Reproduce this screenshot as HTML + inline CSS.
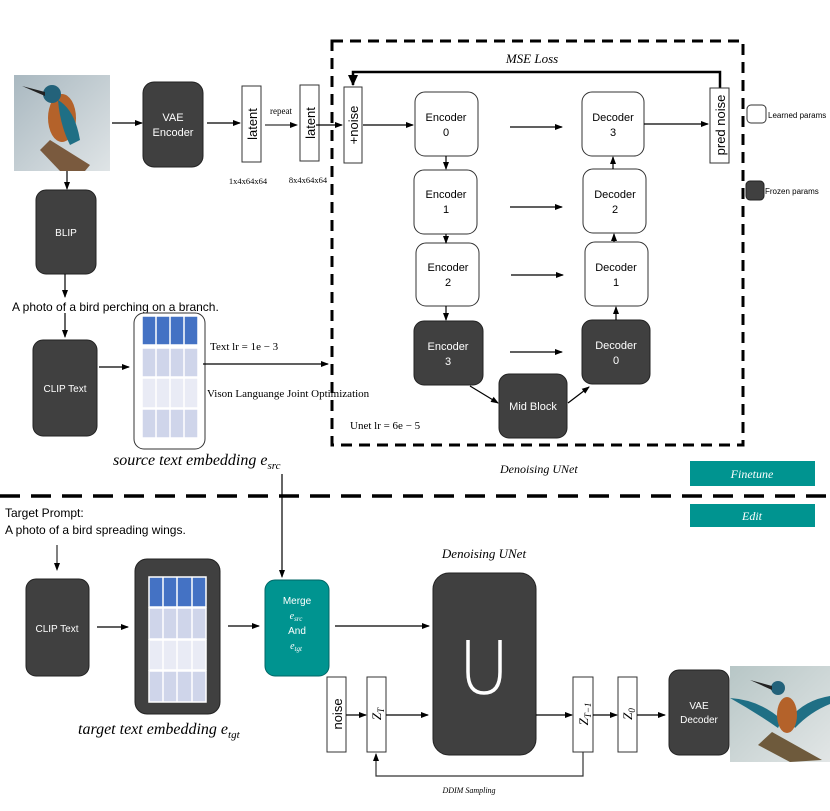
<!DOCTYPE html>
<html><head><meta charset="utf-8"><style>
html,body{margin:0;padding:0;background:#fff;}
svg{display:block;}
.s{font-family:"Liberation Sans",sans-serif;}
.r{font-family:"Liberation Serif",serif;}
</style></head><body>
<svg width="830" height="811" viewBox="0 0 830 811" xmlns="http://www.w3.org/2000/svg">
<defs>
<marker id="a" markerWidth="8" markerHeight="8" refX="7" refY="4" orient="auto" markerUnits="userSpaceOnUse"><path d="M0,1 L8,4 L0,7 z" fill="#000"/></marker>
<marker id="b" markerWidth="12" markerHeight="12" refX="10" refY="6" orient="auto" markerUnits="userSpaceOnUse"><path d="M0,1 L11,6 L0,11 z" fill="#000"/></marker>
<linearGradient id="bg1" x1="0" y1="0" x2="1" y2="1"><stop offset="0" stop-color="#a9b8c0"/><stop offset="1" stop-color="#dfe4e6"/></linearGradient>
<linearGradient id="bg2" x1="0" y1="0" x2="1" y2="1"><stop offset="0" stop-color="#b7c6c6"/><stop offset="1" stop-color="#e2e6e6"/></linearGradient>
</defs>

<!-- bird image top -->
<rect x="14" y="75" width="96" height="96" fill="url(#bg1)"/>
<path d="M40,150 L50,140 L90,165 L85,171 L60,171 Z" fill="#7a5a3e"/>
<ellipse cx="62" cy="118" rx="14" ry="24" fill="#b4622a"/>
<path d="M58,100 Q75,110 80,140 L70,145 Q60,125 58,100 Z" fill="#1f6f85"/>
<circle cx="52" cy="94" r="9" fill="#23627a"/>
<path d="M45,92 L22,86 L45,96 Z" fill="#222"/>

<!-- VAE Encoder -->
<rect x="143" y="82" width="60" height="85" rx="11" fill="#404040" stroke="#222"/>
<text class="s" x="173" y="121" font-size="11" fill="#fff" text-anchor="middle">VAE</text>
<text class="s" x="173" y="136" font-size="11" fill="#fff" text-anchor="middle">Encoder</text>
<line x1="112" y1="123" x2="142" y2="123" stroke="#000" stroke-width="1.3" marker-end="url(#a)"/>
<line x1="207" y1="123" x2="240" y2="123" stroke="#000" stroke-width="1.3" marker-end="url(#a)"/>

<!-- latents -->
<rect x="242" y="86" width="19" height="76" fill="#fff" stroke="#333"/>
<text class="s" transform="translate(257,124) rotate(-90)" font-size="13" text-anchor="middle">latent</text>
<rect x="300" y="85" width="19" height="76" fill="#fff" stroke="#333"/>
<text class="s" transform="translate(315,123) rotate(-90)" font-size="13" text-anchor="middle">latent</text>
<text class="r" x="281" y="114" font-size="9" text-anchor="middle">repeat</text>
<line x1="265" y1="125" x2="297" y2="125" stroke="#000" stroke-width="1" marker-end="url(#a)"/>
<text class="r" x="248" y="184" font-size="8.5" text-anchor="middle">1x4x64x64</text>
<text class="r" x="308" y="183" font-size="8.5" text-anchor="middle">8x4x64x64</text>
<line x1="316" y1="125" x2="342" y2="125" stroke="#000" stroke-width="1.2" marker-end="url(#a)"/>
<rect x="344" y="87" width="18" height="76" fill="#fff" stroke="#333"/>
<text class="s" transform="translate(358,125) rotate(-90)" font-size="13" text-anchor="middle">+noise</text>

<!-- dashed box -->
<rect x="332" y="41" width="411" height="404" fill="none" stroke="#000" stroke-width="3" stroke-dasharray="11,7"/>
<text class="r" x="532" y="63" font-size="13" font-style="italic" text-anchor="middle">MSE Loss</text>
<polyline points="720,88 720,72 353,72 353,85" fill="none" stroke="#000" stroke-width="2.5" marker-end="url(#b)"/>

<!-- encoders -->
<g class="s" font-size="11" text-anchor="middle">
<rect x="415" y="92" width="63" height="64" rx="10" fill="#fff" stroke="#333"/>
<text x="446" y="121">Encoder</text><text x="446" y="136">0</text>
<rect x="414" y="170" width="63" height="64" rx="10" fill="#fff" stroke="#333"/>
<text x="446" y="198">Encoder</text><text x="446" y="213">1</text>
<rect x="416" y="243" width="63" height="63" rx="10" fill="#fff" stroke="#333"/>
<text x="448" y="271">Encoder</text><text x="448" y="286">2</text>
<rect x="414" y="321" width="69" height="64" rx="10" fill="#404040" stroke="#222"/>
<text x="448" y="350" fill="#fff">Encoder</text><text x="448" y="365" fill="#fff">3</text>

<rect x="582" y="92" width="62" height="64" rx="10" fill="#fff" stroke="#333"/>
<text x="613" y="121">Decoder</text><text x="613" y="136">3</text>
<rect x="583" y="169" width="63" height="64" rx="10" fill="#fff" stroke="#333"/>
<text x="615" y="198">Decoder</text><text x="615" y="213">2</text>
<rect x="585" y="242" width="63" height="64" rx="10" fill="#fff" stroke="#333"/>
<text x="616" y="271">Decoder</text><text x="616" y="286">1</text>
<rect x="582" y="320" width="68" height="64" rx="10" fill="#404040" stroke="#222"/>
<text x="616" y="349" fill="#fff">Decoder</text><text x="616" y="364" fill="#fff">0</text>

<rect x="499" y="374" width="68" height="64" rx="10" fill="#404040" stroke="#222"/>
<text x="533" y="410" fill="#fff">Mid Block</text>
</g>
<g stroke="#000" stroke-width="1.2" fill="none">
<line x1="363" y1="125" x2="413" y2="125" marker-end="url(#a)"/>
<line x1="446" y1="156" x2="446" y2="169" marker-end="url(#a)"/>
<line x1="446" y1="234" x2="446" y2="243" marker-end="url(#a)"/>
<line x1="446" y1="306" x2="446" y2="320" marker-end="url(#a)"/>
<line x1="510" y1="127" x2="562" y2="127" marker-end="url(#a)"/>
<line x1="510" y1="207" x2="562" y2="207" marker-end="url(#a)"/>
<line x1="511" y1="275" x2="563" y2="275" marker-end="url(#a)"/>
<line x1="510" y1="352" x2="562" y2="352" marker-end="url(#a)"/>
<line x1="470" y1="386" x2="498" y2="403" marker-end="url(#a)"/>
<line x1="568" y1="403" x2="589" y2="387" marker-end="url(#a)"/>
<line x1="616" y1="320" x2="616" y2="307" marker-end="url(#a)"/>
<line x1="614" y1="242" x2="614" y2="234" marker-end="url(#a)"/>
<line x1="613" y1="169" x2="613" y2="157" marker-end="url(#a)"/>
<line x1="644" y1="124" x2="708" y2="124" marker-end="url(#a)"/>
</g>
<rect x="710" y="88" width="19" height="75" fill="#fff" stroke="#333"/>
<text class="s" transform="translate(725,125) rotate(-90)" font-size="13" text-anchor="middle">pred noise</text>

<!-- legend -->
<rect x="747" y="105" width="19" height="18" rx="4" fill="#fff" stroke="#333"/>
<text class="s" x="768" y="118" font-size="8">Learned  params</text>
<rect x="746" y="181" width="18" height="19" rx="4" fill="#404040" stroke="#222"/>
<text class="s" x="765" y="194" font-size="8">Frozen params</text>

<!-- BLIP -->
<line x1="67" y1="171" x2="67" y2="189" stroke="#000" stroke-width="1.2" marker-end="url(#a)"/>
<rect x="36" y="190" width="60" height="84" rx="10" fill="#404040" stroke="#222"/>
<text class="s" x="66" y="236" font-size="10" fill="#fff" text-anchor="middle">BLIP</text>
<line x1="65" y1="274" x2="65" y2="297" stroke="#000" stroke-width="1.2" marker-end="url(#a)"/>
<text class="s" x="12" y="311" font-size="12">A photo of a bird perching on a branch.</text>
<line x1="65" y1="313" x2="65" y2="337" stroke="#000" stroke-width="1.2" marker-end="url(#a)"/>
<rect x="33" y="340" width="64" height="96" rx="10" fill="#404040" stroke="#222"/>
<text class="s" x="65" y="392" font-size="10" fill="#fff" text-anchor="middle">CLIP Text</text>
<line x1="99" y1="367" x2="129" y2="367" stroke="#000" stroke-width="1.2" marker-end="url(#a)"/>

<!-- source embedding -->
<rect x="134" y="313" width="71" height="136" rx="10" fill="#fff" stroke="#333"/>
<g stroke="#fff" stroke-width="1.5">
<rect x="142" y="316" width="56" height="29" fill="#4472c4"/>
<rect x="142" y="348" width="56" height="29" fill="#cfd5ea"/>
<rect x="142" y="378" width="56" height="30" fill="#e9ebf5"/>
<rect x="142" y="409" width="56" height="29" fill="#cfd5ea"/>
<line x1="156" y1="316" x2="156" y2="438"/><line x1="170" y1="316" x2="170" y2="438"/><line x1="184" y1="316" x2="184" y2="438"/>
</g>
<text class="r" x="210" y="350" font-size="11">Text lr = 1e − 3</text>
<line x1="203" y1="364" x2="328" y2="364" stroke="#000" stroke-width="1.2" marker-end="url(#a)"/>
<text class="r" x="207" y="397" font-size="11">Vison Languange Joint Optimization</text>
<text class="r" x="350" y="429" font-size="11">Unet lr = 6e − 5</text>
<text class="r" x="113" y="465" font-size="16" font-style="italic">source text embedding e<tspan font-size="11" dy="4">src</tspan></text>
<text class="r" x="500" y="473" font-size="12" font-style="italic">Denoising UNet</text>
<rect x="690" y="461" width="125" height="25" fill="#009490"/>
<text class="r" x="752" y="478" font-size="12" font-style="italic" fill="#fff" text-anchor="middle">Finetune</text>

<line x1="0" y1="496" x2="830" y2="496" stroke="#000" stroke-width="3.5" stroke-dasharray="20,11"/>
<line x1="282" y1="474" x2="282" y2="577" stroke="#000" stroke-width="1.2" marker-end="url(#a)"/>

<rect x="690" y="504" width="125" height="23" fill="#009490"/>
<text class="r" x="752" y="520" font-size="12" font-style="italic" fill="#fff" text-anchor="middle">Edit</text>

<!-- bottom -->
<text class="s" x="5" y="517" font-size="12">Target Prompt:</text>
<text class="s" x="5" y="534" font-size="12">A photo of a bird spreading wings.</text>
<line x1="57" y1="545" x2="57" y2="570" stroke="#000" stroke-width="1" marker-end="url(#a)"/>
<rect x="26" y="579" width="63" height="97" rx="10" fill="#404040" stroke="#222"/>
<text class="s" x="57" y="632" font-size="10" fill="#fff" text-anchor="middle">CLIP Text</text>
<line x1="97" y1="627" x2="128" y2="627" stroke="#000" stroke-width="1.2" marker-end="url(#a)"/>
<rect x="135" y="559" width="85" height="155" rx="12" fill="#404040" stroke="#222"/>
<g stroke="#fff" stroke-width="1.5">
<rect x="149" y="577" width="57" height="30" fill="#4472c4"/>
<rect x="149" y="608" width="57" height="31" fill="#cfd5ea"/>
<rect x="149" y="640" width="57" height="30" fill="#e9ebf5"/>
<rect x="149" y="671" width="57" height="31" fill="#cfd5ea"/>
<line x1="163" y1="577" x2="163" y2="702"/><line x1="177" y1="577" x2="177" y2="702"/><line x1="192" y1="577" x2="192" y2="702"/>
</g>
<text class="r" x="78" y="734" font-size="16" font-style="italic">target text embedding e<tspan font-size="11" dy="4">tgt</tspan></text>
<line x1="228" y1="626" x2="259" y2="626" stroke="#000" stroke-width="1.2" marker-end="url(#a)"/>

<rect x="265" y="580" width="64" height="96" rx="10" fill="#009490" stroke="#066"/>
<g fill="#fff" text-anchor="middle" font-size="10">
<text class="s" x="297" y="604">Merge</text>
<text class="r" x="296" y="619" font-style="italic">e<tspan font-size="7" dy="2">src</tspan></text>
<text class="s" x="297" y="634">And</text>
<text class="r" x="296" y="649" font-style="italic">e<tspan font-size="7" dy="2">tgt</tspan></text>
</g>
<line x1="335" y1="626" x2="429" y2="626" stroke="#000" stroke-width="1.3" marker-end="url(#a)"/>

<text class="r" x="484" y="558" font-size="13" font-style="italic" text-anchor="middle">Denoising UNet</text>
<rect x="433" y="573" width="103" height="182" rx="16" fill="#404040" stroke="#222"/>
<path d="M468,640 L468,672 Q468,693 484,693 Q500,693 500,672 L500,640" fill="none" stroke="#fff" stroke-width="3.5"/>

<rect x="327" y="677" width="19" height="75" fill="#fff" stroke="#333"/>
<text class="s" transform="translate(342,714) rotate(-90)" font-size="13" text-anchor="middle">noise</text>
<rect x="367" y="677" width="19" height="75" fill="#fff" stroke="#333"/>
<text class="r" transform="translate(381,714) rotate(-90)" font-size="13" font-style="italic" text-anchor="middle">Z<tspan font-size="9" dy="3">T</tspan></text>
<rect x="573" y="677" width="20" height="75" fill="#fff" stroke="#333"/>
<text class="r" transform="translate(588,714) rotate(-90)" font-size="13" font-style="italic" text-anchor="middle">Z<tspan font-size="9" dy="3">T−1</tspan></text>
<rect x="618" y="677" width="19" height="75" fill="#fff" stroke="#333"/>
<text class="r" transform="translate(632,714) rotate(-90)" font-size="13" font-style="italic" text-anchor="middle">Z<tspan font-size="9" dy="3">0</tspan></text>
<g stroke="#000" stroke-width="1.2" fill="none">
<line x1="346" y1="715" x2="366" y2="715" marker-end="url(#a)"/>
<line x1="386" y1="715" x2="428" y2="715" marker-end="url(#a)"/>
<line x1="536" y1="715" x2="572" y2="715" marker-end="url(#a)"/>
<line x1="593" y1="715" x2="617" y2="715" marker-end="url(#a)"/>
<line x1="637" y1="715" x2="665" y2="715" marker-end="url(#a)"/>
<polyline points="583,752 583,776 376,776 376,754" marker-end="url(#a)" stroke="#333"/>
</g>
<text class="r" x="469" y="793" font-size="8" font-style="italic" text-anchor="middle">DDIM Sampling</text>

<rect x="669" y="670" width="60" height="85" rx="10" fill="#404040" stroke="#222"/>
<text class="s" x="699" y="709" font-size="10" fill="#fff" text-anchor="middle">VAE</text>
<text class="s" x="699" y="723" font-size="10" fill="#fff" text-anchor="middle">Decoder</text>

<!-- bird image bottom -->
<rect x="730" y="666" width="100" height="96" fill="url(#bg2)"/>
<path d="M758,745 L772,732 L822,760 L790,762 Z" fill="#6e5a3c"/>
<path d="M730,698 Q760,700 782,720 L778,728 Q755,712 730,698 Z" fill="#1f6f85"/>
<path d="M790,718 Q805,700 830,696 L830,704 Q810,712 795,728 Z" fill="#1f6f85"/>
<ellipse cx="787" cy="715" rx="10" ry="18" fill="#b4622a"/>
<circle cx="778" cy="688" r="7" fill="#23627a"/>
<path d="M772,686 L750,680 L772,690 Z" fill="#222"/>
</svg>
</body></html>
